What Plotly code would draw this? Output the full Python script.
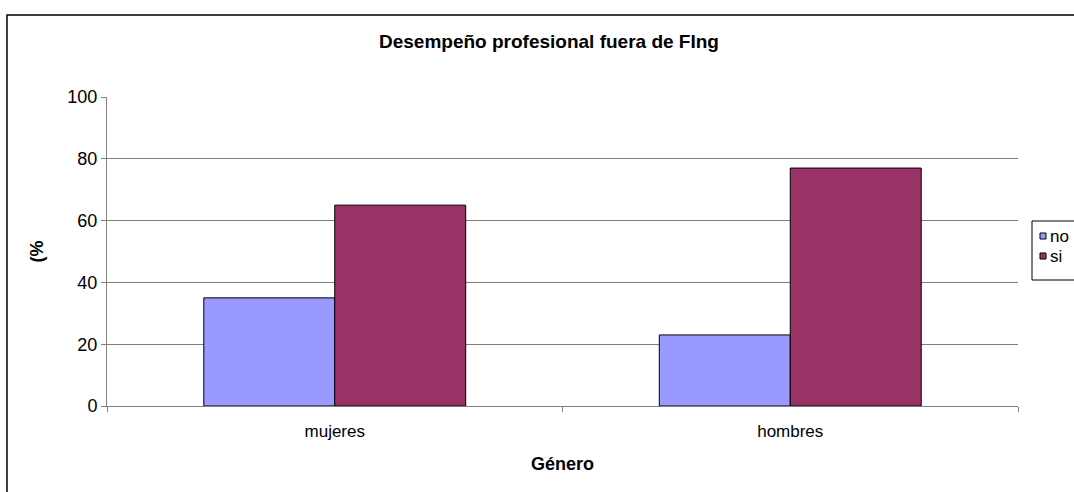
import plotly.graph_objects as go

categories = ["mujeres", "hombres"]
no_values = [35, 23]
si_values = [65, 77]
y_ticks = [0, 20, 40, 60, 80, 100]
series_names = ["no", "si"]
series_colors = ["#9999FF", "#993366"]

fig = go.Figure()
for name, vals, col in zip(series_names, [no_values, si_values], series_colors):
    fig.add_trace(go.Bar(name=name, x=categories, y=vals,
                         marker=dict(color=col, line=dict(color="#000000", width=1))))

L, T, W, H = 107, 97, 911, 309


def px(xp):
    return (xp - L) / W


def py(yp):
    return (T + H - yp) / H


fig.update_layout(
    width=1074, height=492,
    margin=dict(l=107, r=56, t=97, b=86, autoexpand=False),
    paper_bgcolor="white", plot_bgcolor="white",
    barmode="group", bargap=0.425, bargroupgap=0,
    font=dict(family="Liberation Sans, Arial, sans-serif", size=16, color="black"),
    title=dict(text="<b>Desempeño profesional fuera de FIng</b>", xref="paper",
               x=px(549), xanchor="center",
               y=1 - 41 / 492, yanchor="middle", font=dict(size=19)),
    showlegend=False,
    xaxis=dict(title=dict(text="<b>Género</b>", font=dict(size=18), standoff=16),
               showline=True, linecolor="#808080", linewidth=1,
               ticks="outside", ticklen=5, tickcolor="#808080",
               tickson="boundaries", tickfont=dict(size=17), ticklabelstandoff=10),
    yaxis=dict(title=dict(text="<b>(%</b>", font=dict(size=18), standoff=19),
               range=[0, 100], tickvals=y_ticks,
               showline=True, linecolor="#808080", linewidth=1,
               ticks="outside", ticklen=5, tickcolor="#808080",
               showgrid=True, gridcolor="#808080", gridwidth=1,
               zeroline=False, tickfont=dict(size=18)),
)

# outer chart border
fig.add_shape(type="rect", xref="paper", yref="paper",
              x0=px(7), x1=1.2, y0=-0.4, y1=py(15),
              line=dict(color="black", width=1.5), fillcolor="rgba(0,0,0,0)", layer="below")

# legend box
fig.add_shape(type="rect", xref="paper", yref="paper",
              x0=px(1032), x1=1.2, y0=py(280), y1=py(221),
              line=dict(color="black", width=1), fillcolor="white")
for i, (name, col) in enumerate(zip(series_names, series_colors)):
    cy = 236 + 20 * i
    fig.add_shape(type="rect", xref="paper", yref="paper",
                  x0=px(1040), x1=px(1046), y0=py(cy + 3), y1=py(cy - 3),
                  line=dict(color="black", width=1), fillcolor=col)
    fig.add_annotation(text=name, xref="paper", yref="paper",
                       x=px(1048), y=py(cy), xanchor="left", yanchor="middle",
                       showarrow=False, font=dict(size=17))

fig.write_html("out.html")
